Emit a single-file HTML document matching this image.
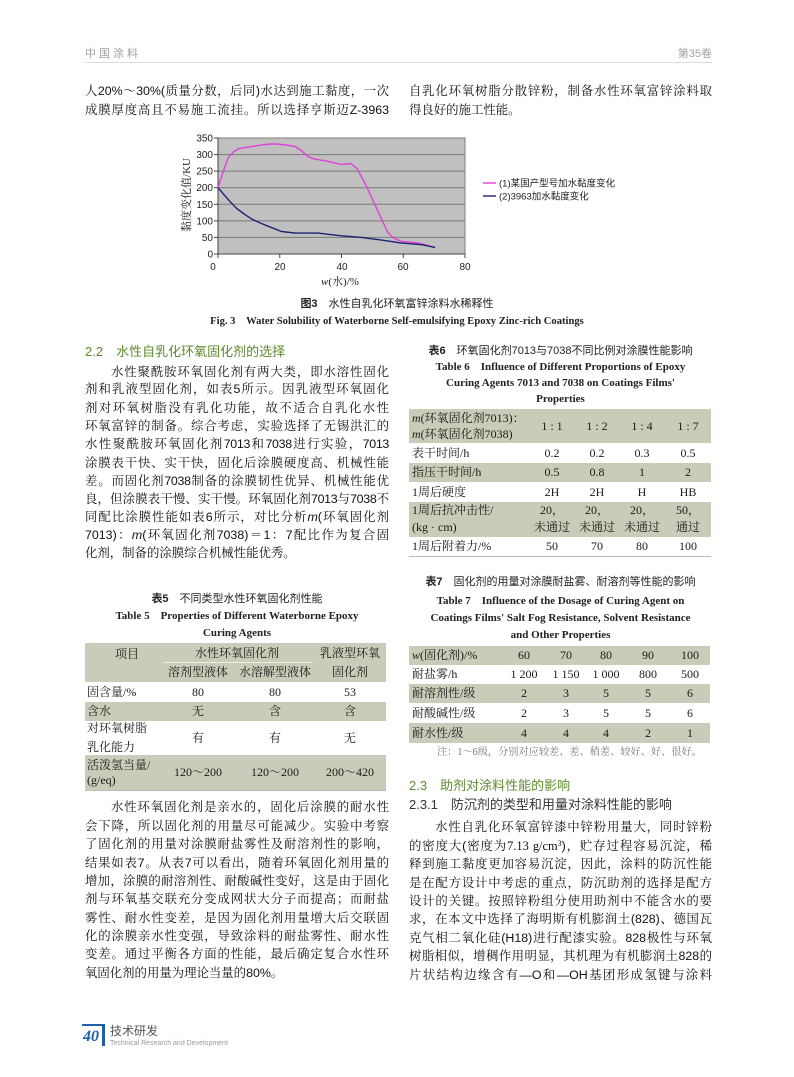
<!DOCTYPE html>
<html><head><meta charset="utf-8">
<style>
*{margin:0;padding:0;box-sizing:border-box}
body{width:794px;height:1077px;background:#fff;overflow:hidden;position:relative;font-family:"Liberation Sans","Noto Serif CJK SC",serif;color:#222}
.a{position:absolute;white-space:nowrap}
.l{position:absolute;font-size:12.4px;line-height:18px;height:18px;text-align:justify;text-align-last:justify;overflow:visible;font-family:"Liberation Sans","Noto Serif CJK SC",serif;color:#111}
.L{left:85px;width:304px}
.R{left:409px;width:303px}
.ind{padding-left:26px}
.e{text-align-last:left}
.h{position:absolute;font-size:13px;line-height:18px;font-family:"Liberation Sans","Noto Sans CJK SC",sans-serif;color:#5d8a2e;white-space:nowrap}
.cap{position:absolute;text-align:center;white-space:nowrap;font-size:11px;line-height:16px}
.capc{font-family:"Liberation Sans","Noto Sans CJK SC",sans-serif;color:#222}
.cape{font-family:"Liberation Serif",serif;font-weight:bold;color:#222;font-size:11px}
.sh{position:absolute;background:#cbcbb9}
.t{position:absolute;font-size:12px;line-height:16px;white-space:nowrap;font-family:"Liberation Serif","Noto Serif CJK SC",serif;color:#1a1a1a}
.c{text-align:center;transform:translateX(-50%)}
.n{letter-spacing:-0.3px}
sup{font-size:8px;line-height:0;vertical-align:4px}
</style></head><body>

<!-- header -->
<div class="a" style="left:85px;top:45px;font-size:11px;letter-spacing:3px;color:#a0a0a0;font-family:'Liberation Sans','Noto Sans CJK SC',sans-serif">中国涂料</div>
<div class="a" style="right:82px;top:45px;font-size:11px;color:#a0a0a0;font-family:'Liberation Sans','Noto Sans CJK SC',sans-serif">第35卷</div>
<div class="a" style="left:85px;top:62px;width:627px;height:1px;background:#dcdcdc"></div>

<!-- top paragraph -->
<div class="l L" style="top:82px">人20%～30%(质量分数，后同)水达到施工黏度，一次</div>
<div class="l L" style="top:101px">成膜厚度高且不易施工流挂。所以选择亨斯迈Z-3963</div>
<div class="l R" style="top:82px">自乳化环氧树脂分散锌粉，制备水性环氧富锌涂料取</div>
<div class="l R e" style="top:101px">得良好的施工性能。</div>

<!-- chart -->
<svg class="a" style="left:0;top:0" width="794" height="340" viewBox="0 0 794 340">
<rect x="218" y="138" width="247" height="116" fill="#c0c0c0" stroke="#808080" stroke-width="1"/>
<g stroke="#7a7a7a" stroke-width="1">
<line x1="218" y1="154.6" x2="465" y2="154.6"/>
<line x1="218" y1="171.1" x2="465" y2="171.1"/>
<line x1="218" y1="187.7" x2="465" y2="187.7"/>
<line x1="218" y1="204.3" x2="465" y2="204.3"/>
<line x1="218" y1="220.9" x2="465" y2="220.9"/>
<line x1="218" y1="237.4" x2="465" y2="237.4"/>
</g>
<line x1="218" y1="138" x2="218" y2="254" stroke="#444" stroke-width="1"/>
<line x1="218" y1="254" x2="465" y2="254" stroke="#444" stroke-width="1"/>
<g stroke="#444" stroke-width="1">
<line x1="214" y1="138" x2="218" y2="138"/><line x1="214" y1="154.6" x2="218" y2="154.6"/><line x1="214" y1="171.1" x2="218" y2="171.1"/><line x1="214" y1="187.7" x2="218" y2="187.7"/><line x1="214" y1="204.3" x2="218" y2="204.3"/><line x1="214" y1="220.9" x2="218" y2="220.9"/><line x1="214" y1="237.4" x2="218" y2="237.4"/><line x1="214" y1="254" x2="218" y2="254"/>
<line x1="218" y1="254" x2="218" y2="258"/><line x1="279.75" y1="254" x2="279.75" y2="258"/><line x1="341.5" y1="254" x2="341.5" y2="258"/><line x1="403.25" y1="254" x2="403.25" y2="258"/><line x1="465" y1="254" x2="465" y2="258"/>
</g>
<polyline fill="none" stroke="#e040d8" stroke-width="1.4" stroke-linejoin="round" points="218,187.7 223.2,171.5 228.2,157.9 233.4,151.9 238.4,148.9 242.7,147.9 252,146.6 261.2,144.9 270.5,144 276.7,144 285.9,145 295.2,146.6 301.4,150.6 307.5,156.2 313.7,158.9 326.1,160.9 341.5,164.5 350.8,163.5 356.9,168.5 364.7,182.7 374.8,204.3 381.6,219.2 387.8,232.5 394,238.4 401.7,241.4 409.4,242.1 418.7,243.1 424.9,244.7 435.1,247.4"/>
<polyline fill="none" stroke="#1c2270" stroke-width="1.4" stroke-linejoin="round" points="218,187.7 228.2,199.6 236.5,208.3 244.9,214.6 252,219.2 261.5,223.5 270.5,227.2 281.6,231.5 295.2,233.1 318.3,233.1 329.2,234.4 341.5,235.8 361.6,237.4 381.6,240.1 401.7,243.1 421.8,244.7 428,246 435.1,247.4"/>
<g font-family="Liberation Sans,sans-serif" font-size="10" fill="#222" text-anchor="end">
<text x="213" y="141.5">350</text><text x="213" y="158">300</text><text x="213" y="174.6">250</text><text x="213" y="191.2">200</text><text x="213" y="207.8">150</text><text x="213" y="224.4">100</text><text x="213" y="240.9">50</text><text x="213" y="257.5">0</text>
</g>
<g font-family="Liberation Sans,sans-serif" font-size="10" fill="#222" text-anchor="middle">
<text x="213" y="270">0</text><text x="280" y="270">20</text><text x="342" y="270">40</text><text x="403" y="270">60</text><text x="465" y="270">80</text>
</g>
<text x="340" y="285" text-anchor="middle" font-family="Liberation Serif,Noto Serif CJK SC,serif" font-size="11" fill="#222"><tspan font-style="italic">w</tspan>(水)/%</text>
<text transform="translate(190,195) rotate(-90)" text-anchor="middle" font-family="Liberation Serif,Noto Serif CJK SC,serif" font-size="11" fill="#222">黏度变化值/KU</text>
<line x1="483" y1="183" x2="496" y2="183" stroke="#e040d8" stroke-width="1.4"/>
<line x1="483" y1="196" x2="496" y2="196" stroke="#1c2270" stroke-width="1.4"/>
<g font-family="Liberation Sans,Noto Sans CJK SC,sans-serif" font-size="9.5" fill="#222">
<text x="499" y="186.5">(1)某国产型号加水黏度变化</text>
<text x="499" y="199.5">(2)3963加水黏度变化</text>
</g>
</svg>

<div class="cap capc" style="left:197px;width:400px;top:296px;font-size:11px"><b>图3</b>　水性自乳化环氧富锌涂料水稀释性</div>
<div class="cap cape" style="left:147px;width:500px;top:314px;font-size:10.6px">Fig. 3　Water Solubility of Waterborne Self-emulsifying Epoxy Zinc-rich Coatings</div>

<!-- section 2.2 -->
<div class="h" style="left:85px;top:343px">2.2　水性自乳化环氧固化剂的选择</div>
<div class="l L ind" style="top:363px">水性聚酰胺环氧固化剂有两大类，即水溶性固化</div>
<div class="l L" style="top:380px">剂和乳液型固化剂，如表5所示。因乳液型环氧固化</div>
<div class="l L" style="top:399px">剂对环氧树脂没有乳化功能，故不适合自乳化水性</div>
<div class="l L" style="top:417px">环氧富锌的制备。综合考虑，实验选择了无锡洪汇的</div>
<div class="l L" style="top:435px">水性聚酰胺环氧固化剂<span class="n">7013</span>和<span class="n">7038</span>进行实验，<span class="n">7013</span></div>
<div class="l L" style="top:454px">涂膜表干快、实干快，固化后涂膜硬度高、机械性能</div>
<div class="l L" style="top:472px">差。而固化剂<span class="n">7038</span>制备的涂膜韧性优异、机械性能优</div>
<div class="l L" style="top:490px">良，但涂膜表干慢、实干慢。环氧固化剂<span class="n">7013</span>与<span class="n">7038</span>不</div>
<div class="l L" style="top:508px">同配比涂膜性能如表6所示，对比分析<i>m</i>(环氧固化剂</div>
<div class="l L" style="top:526px">7013)：<i>m</i>(环氧固化剂7038)＝1：7配比作为复合固</div>
<div class="l L e" style="top:544px">化剂，制备的涂膜综合机械性能优秀。</div>

<!-- table 5 -->
<div class="cap capc" style="left:137px;width:200px;top:591px"><b>表5</b>　不同类型水性环氧固化剂性能</div>
<div class="cap cape" style="left:85px;width:304px;top:608px">Table 5　Properties of Different Waterborne Epoxy</div>
<div class="cap cape" style="left:85px;width:304px;top:625px">Curing Agents</div>
<div class="sh" style="left:85px;top:643px;width:301px;height:39px"></div>
<div class="a" style="left:163px;top:662px;width:150px;height:1px;background:#eeeee6"></div>
<div class="sh" style="left:85px;top:702px;width:301px;height:19px"></div>
<div class="sh" style="left:85px;top:755px;width:301px;height:35px"></div>
<div class="a" style="left:85px;top:790px;width:301px;height:1px;background:#bbb"></div>
<div class="t c" style="left:127px;top:646px">项目</div>
<div class="t c" style="left:237px;top:645px">水性环氧固化剂</div>
<div class="t c" style="left:198px;top:664px">溶剂型液体</div>
<div class="t c" style="left:275px;top:664px">水溶解型液体</div>
<div class="t c" style="left:350px;top:645px">乳液型环氧</div>
<div class="t c" style="left:350px;top:664px">固化剂</div>
<div class="t" style="left:87px;top:684px">固含量/%</div>
<div class="t c" style="left:198px;top:684px">80</div><div class="t c" style="left:275px;top:684px">80</div><div class="t c" style="left:350px;top:684px">53</div>
<div class="t" style="left:87px;top:703px">含水</div>
<div class="t c" style="left:198px;top:703px">无</div><div class="t c" style="left:275px;top:703px">含</div><div class="t c" style="left:350px;top:703px">含</div>
<div class="t" style="left:87px;top:720px">对环氧树脂</div>
<div class="t" style="left:87px;top:739px">乳化能力</div>
<div class="t c" style="left:198px;top:730px">有</div><div class="t c" style="left:275px;top:730px">有</div><div class="t c" style="left:350px;top:730px">无</div>
<div class="t" style="left:87px;top:757px">活泼氢当量/</div>
<div class="t" style="left:87px;top:772px">(g/eq)</div>
<div class="t c" style="left:198px;top:764px">120～200</div><div class="t c" style="left:275px;top:764px">120～200</div><div class="t c" style="left:350px;top:764px">200～420</div>

<!-- paragraph left lower -->
<div class="l L ind" style="top:798px">水性环氧固化剂是亲水的，固化后涂膜的耐水性</div>
<div class="l L" style="top:817px">会下降，所以固化剂的用量尽可能减少。实验中考察</div>
<div class="l L" style="top:835px">了固化剂的用量对涂膜耐盐雾性及耐溶剂性的影响，</div>
<div class="l L" style="top:854px">结果如表7。从表7可以看出，随着环氧固化剂用量的</div>
<div class="l L" style="top:872px">增加，涂膜的耐溶剂性、耐酸碱性变好，这是由于固化</div>
<div class="l L" style="top:890px">剂与环氧基交联充分变成网状大分子而提高；而耐盐</div>
<div class="l L" style="top:909px">雾性、耐水性变差，是因为固化剂用量增大后交联固</div>
<div class="l L" style="top:927px">化的涂膜亲水性变强，导致涂料的耐盐雾性、耐水性</div>
<div class="l L" style="top:945px">变差。通过平衡各方面的性能，最后确定复合水性环</div>
<div class="l L e" style="top:964px">氧固化剂的用量为理论当量的80%。</div>

<!-- table 6 -->
<div class="cap capc" style="left:409px;width:303px;top:343px"><b>表6</b>　环氧固化剂7013与7038不同比例对涂膜性能影响</div>
<div class="cap cape" style="left:409px;width:303px;top:359px">Table 6　Influence of Different Proportions of Epoxy</div>
<div class="cap cape" style="left:409px;width:303px;top:375px">Curing Agents 7013 and 7038 on Coatings Films'</div>
<div class="cap cape" style="left:409px;width:303px;top:391px">Properties</div>
<div class="sh" style="left:409px;top:409px;width:302px;height:34px"></div>
<div class="sh" style="left:409px;top:463px;width:302px;height:19px"></div>
<div class="sh" style="left:409px;top:502px;width:302px;height:35px"></div>
<div class="a" style="left:409px;top:556px;width:302px;height:1px;background:#bbb"></div>
<div class="t" style="left:412px;top:410px"><i>m</i>(环氧固化剂7013)：</div>
<div class="t" style="left:412px;top:426px"><i>m</i>(环氧固化剂7038)</div>
<div class="t c" style="left:552px;top:418px">1 : 1</div><div class="t c" style="left:597px;top:418px">1 : 2</div><div class="t c" style="left:642px;top:418px">1 : 4</div><div class="t c" style="left:688px;top:418px">1 : 7</div>
<div class="t" style="left:412px;top:445px">表干时间/h</div>
<div class="t c" style="left:552px;top:445px">0.2</div><div class="t c" style="left:597px;top:445px">0.2</div><div class="t c" style="left:642px;top:445px">0.3</div><div class="t c" style="left:688px;top:445px">0.5</div>
<div class="t" style="left:412px;top:464px">指压干时间/h</div>
<div class="t c" style="left:552px;top:464px">0.5</div><div class="t c" style="left:597px;top:464px">0.8</div><div class="t c" style="left:642px;top:464px">1</div><div class="t c" style="left:688px;top:464px">2</div>
<div class="t" style="left:412px;top:484px">1周后硬度</div>
<div class="t c" style="left:552px;top:484px">2H</div><div class="t c" style="left:597px;top:484px">2H</div><div class="t c" style="left:642px;top:484px">H</div><div class="t c" style="left:688px;top:484px">HB</div>
<div class="t" style="left:412px;top:502px">1周后抗冲击性/</div>
<div class="t" style="left:412px;top:519px">(kg · cm)</div>
<div class="t c" style="left:552px;top:502px">20，</div><div class="t c" style="left:597px;top:502px">20，</div><div class="t c" style="left:642px;top:502px">20，</div><div class="t c" style="left:688px;top:502px">50，</div>
<div class="t c" style="left:552px;top:519px">未通过</div><div class="t c" style="left:597px;top:519px">未通过</div><div class="t c" style="left:642px;top:519px">未通过</div><div class="t c" style="left:688px;top:519px">通过</div>
<div class="t" style="left:412px;top:538px">1周后附着力/%</div>
<div class="t c" style="left:552px;top:538px">50</div><div class="t c" style="left:597px;top:538px">70</div><div class="t c" style="left:642px;top:538px">80</div><div class="t c" style="left:688px;top:538px">100</div>

<!-- table 7 -->
<div class="cap capc" style="left:409px;width:303px;top:574px"><b>表7</b>　固化剂的用量对涂膜耐盐雾、耐溶剂等性能的影响</div>
<div class="cap cape" style="left:409px;width:303px;top:593px">Table 7　Influence of the Dosage of Curing Agent on</div>
<div class="cap cape" style="left:409px;width:303px;top:610px">Coatings Films' Salt Fog Resistance, Solvent Resistance</div>
<div class="cap cape" style="left:409px;width:303px;top:627px">and Other Properties</div>
<div class="sh" style="left:409px;top:646px;width:301px;height:19px"></div>
<div class="sh" style="left:409px;top:684px;width:301px;height:19px"></div>
<div class="sh" style="left:409px;top:723px;width:301px;height:20px"></div>
<div class="t" style="left:412px;top:647px"><i>w</i>(固化剂)/%</div>
<div class="t c" style="left:524px;top:647px">60</div><div class="t c" style="left:566px;top:647px">70</div><div class="t c" style="left:606px;top:647px">80</div><div class="t c" style="left:648px;top:647px">90</div><div class="t c" style="left:690px;top:647px">100</div>
<div class="t" style="left:412px;top:666px">耐盐雾/h</div>
<div class="t c" style="left:524px;top:666px">1 200</div><div class="t c" style="left:566px;top:666px">1 150</div><div class="t c" style="left:606px;top:666px">1 000</div><div class="t c" style="left:648px;top:666px">800</div><div class="t c" style="left:690px;top:666px">500</div>
<div class="t" style="left:412px;top:685px">耐溶剂性/级</div>
<div class="t c" style="left:524px;top:685px">2</div><div class="t c" style="left:566px;top:685px">3</div><div class="t c" style="left:606px;top:685px">5</div><div class="t c" style="left:648px;top:685px">5</div><div class="t c" style="left:690px;top:685px">6</div>
<div class="t" style="left:412px;top:705px">耐酸碱性/级</div>
<div class="t c" style="left:524px;top:705px">2</div><div class="t c" style="left:566px;top:705px">3</div><div class="t c" style="left:606px;top:705px">5</div><div class="t c" style="left:648px;top:705px">5</div><div class="t c" style="left:690px;top:705px">6</div>
<div class="t" style="left:412px;top:725px">耐水性/级</div>
<div class="t c" style="left:524px;top:725px">4</div><div class="t c" style="left:566px;top:725px">4</div><div class="t c" style="left:606px;top:725px">4</div><div class="t c" style="left:648px;top:725px">2</div><div class="t c" style="left:690px;top:725px">1</div>
<div class="a" style="left:437px;top:745px;font-size:10.2px;line-height:16px;color:#777;font-family:'Liberation Serif','Noto Serif CJK SC',serif">注：1～6级，分别对应较差、差、稍差、较好、好、很好。</div>

<!-- section 2.3 -->
<div class="h" style="left:409px;top:777px">2.3　助剂对涂料性能的影响</div>
<div class="h" style="left:409px;top:796px;color:#333">2.3.1　防沉剂的类型和用量对涂料性能的影响</div>
<div class="l R ind" style="top:818px">水性自乳化环氧富锌漆中锌粉用量大，同时锌粉</div>
<div class="l R" style="top:837px">的密度大(密度为<span style="font-family:'Liberation Serif',serif">7.13 g/cm<sup>3</sup></span>)，贮存过程容易沉淀，稀</div>
<div class="l R" style="top:855px">释到施工黏度更加容易沉淀，因此，涂料的防沉性能</div>
<div class="l R" style="top:874px">是在配方设计中考虑的重点，防沉助剂的选择是配方</div>
<div class="l R" style="top:892px">设计的关键。按照锌粉组分使用助剂中不能含水的要</div>
<div class="l R" style="top:910px">求，在本文中选择了海明斯有机膨润土(828)、德国瓦</div>
<div class="l R" style="top:929px">克气相二氧化硅(H18)进行配漆实验。828极性与环氧</div>
<div class="l R" style="top:947px">树脂相似，增稠作用明显，其机理为有机膨润土828的</div>
<div class="l R" style="top:966px">片状结构边缘含有—O和—OH基团形成氢键与涂料</div>

<!-- footer -->
<div class="a" style="left:82px;top:1024px;width:23px;height:2px;background:#1f5fa8"></div>
<div class="a" style="left:102px;top:1024px;width:3px;height:22px;background:#1f5fa8"></div>
<div class="a" style="left:83px;top:1028px;font-size:16px;line-height:18px;font-weight:bold;font-style:italic;color:#1f5fa8;font-family:'Liberation Serif',serif">40</div>
<div class="a" style="left:110px;top:1024px;font-size:12px;line-height:14px;color:#555;font-family:'Liberation Sans','Noto Sans CJK SC',sans-serif">技术研发</div>
<div class="a" style="left:110px;top:1039px;font-size:7px;line-height:9px;color:#999;font-family:'Liberation Sans',sans-serif">Technical Research and Development</div>

</body></html>
